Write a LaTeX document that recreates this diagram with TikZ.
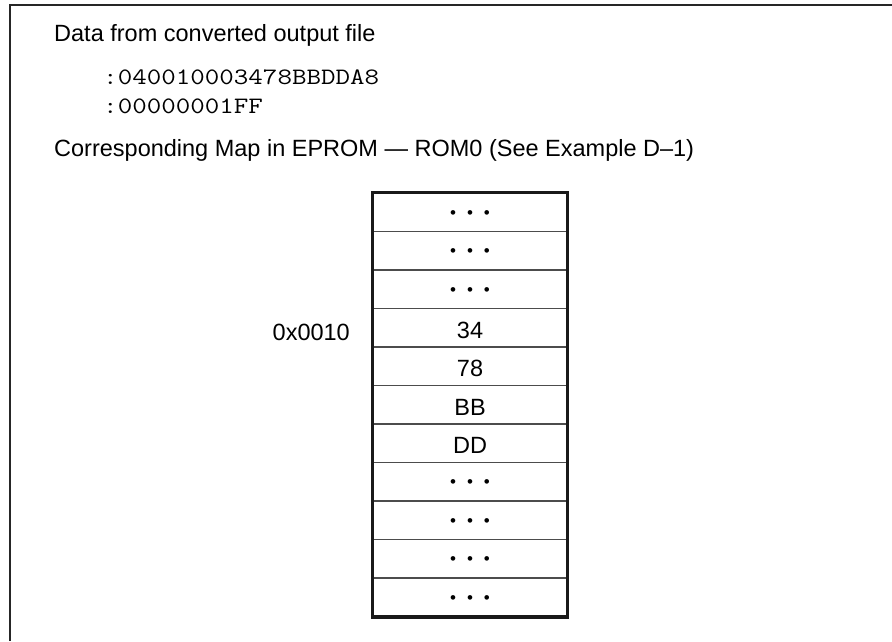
\documentclass[tikz,border=0pt]{standalone}
\usepackage{fontspec}
\setmainfont{Liberation Sans}
\newcommand\dotrow{•\hspace{11pt}•\hspace{11pt}•}
\begin{document}
\begin{tikzpicture}[x=1pt,y=-1pt,
  maintext/.style={font=\fontsize{23.5}{28}\selectfont, inner sep=0pt},
  codetext/.style={font=\ttfamily\fontsize{23.5}{28}\selectfont, inner sep=0pt, xscale=1.2, transform shape},
  cell/.style={draw=black!70, line width=1.3pt, minimum width=194pt, minimum height=38.5pt,
    inner sep=0pt, text height=21pt, text depth=0pt, font=\fontsize{23.5}{28}\selectfont},
  dotcell/.style={cell, text height=12.2pt, font=\fontsize{17}{20}\selectfont}]
\useasboundingbox (0,0) rectangle (892,641);
\draw[line width=2.5pt, black!85] (10,641) -- (10,5) -- (892,5);
\node[maintext, anchor=base west] (title) at (54,41) {Data from converted output file};
\node[codetext, anchor=base west] (l1) at (103,84) {:040010003478BBDDA8};
\node[codetext, anchor=base west] (l2) at (103,113) {:00000001FF};
\node[maintext, anchor=base west] (sub) at (54,156) {Corresponding Map in EPROM — ROM0 (See Example D–1)};
\node[dotcell] (r1) at (470,212.25) {\dotrow};
\node[dotcell] (r2) at (470,250.75) {\dotrow};
\node[dotcell] (r3) at (470,289.25) {\dotrow};
\node[cell] (r4) at (470,327.75) {34};
\node[cell] (r5) at (470,366.25) {78};
\node[cell] (r6) at (470,404.75) {BB};
\node[cell] (r7) at (470,443.25) {DD};
\node[dotcell] (r8) at (470,481.75) {\dotrow};
\node[dotcell] (r9) at (470,520.25) {\dotrow};
\node[dotcell] (r10) at (470,558.75) {\dotrow};
\node[dotcell] (r11) at (470,597.25) {\dotrow};
\draw[line width=3.5pt, black!90] (r1.north west) rectangle (r11.south east);
\node[maintext, anchor=base east] (addr) at (350,340) {0x0010};
\end{tikzpicture}
\end{document}
